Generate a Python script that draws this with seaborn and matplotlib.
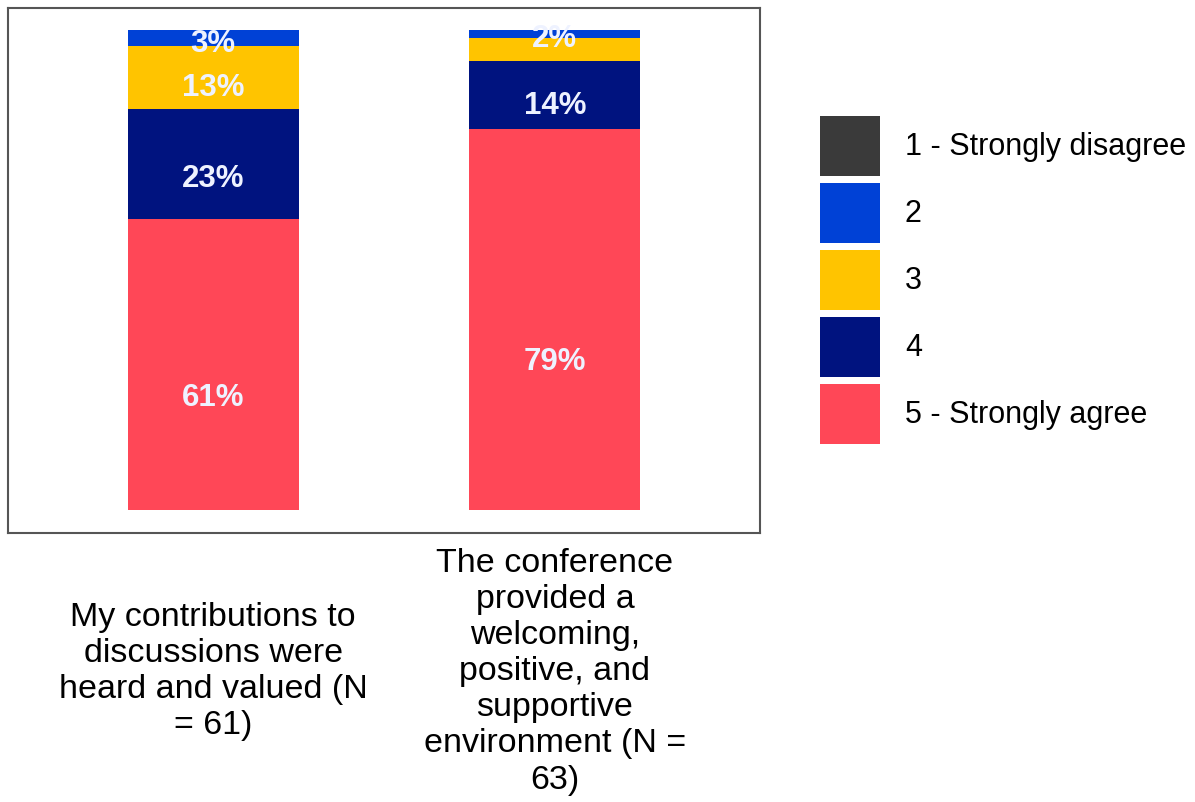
import numpy as np
import pandas as pd
import matplotlib
matplotlib.use("Agg")
import matplotlib.pyplot as plt
from matplotlib.patches import Patch
import seaborn as sns

# ---- data ----
questions = [
    "My contributions to\ndiscussions were\nheard and valued (N\n= 61)",
    "The conference\nprovided a\nwelcoming,\npositive, and\nsupportive\nenvironment (N =\n63)",
]
responses = ["1 - Strongly disagree", "2", "3", "4", "5 - Strongly agree"]
counts_q1 = [0, 2, 8, 14, 37]   # N = 61
counts_q2 = [0, 1, 3, 9, 50]    # N = 63
colors = ["#3A3A3A", "#0041D6", "#FFC400", "#00137F", "#FF4757"]

sns.set_theme(style="white")
plt.rcParams["font.family"] = ["Liberation Sans", "DejaVu Sans"]
plt.rcParams["text.color"] = "black"
plt.rcParams["xtick.color"] = "black"

W, H = 1195, 802
fig = plt.figure(figsize=(W / 100, H / 100), dpi=100)
ax = fig.add_axes([8 / W, (H - 533) / H, 752 / W, 525 / H])

pct = pd.DataFrame(
    {q: 100 * np.array(c) / sum(c) for q, c in zip(questions, [counts_q1, counts_q2])},
    index=responses,
).T  # rows = questions, cols = responses

# stack order bottom -> top: 5, 4, 3, 2, 1
stack_order = responses[::-1]
bottoms = np.zeros(len(questions))
label_info = []
for resp in stack_order:
    color = colors[responses.index(resp)]
    vals = pct[resp].values
    sns.barplot(x=list(questions), y=vals, bottom=bottoms, color=color,
                width=0.5, ax=ax, linewidth=0, saturation=1, order=questions)
    for i, v in enumerate(vals):
        label_info.append((i, bottoms[i], v))
    bottoms = bottoms + vals

# labels, top-down with overlap suppression
last_y = {0: None, 1: None}
for i, b, v in sorted(label_info, key=lambda t: -(t[1] + t[2])):
    if v <= 0.5:
        continue
    y = b + 0.4 * v - 0.9
    if last_y[i] is not None and abs(last_y[i] - y) < 5:
        continue
    last_y[i] = y
    ax.text(i, y, f"{v:.0f}%", ha="center", va="center", color="#EEF2FF",
            fontsize=22.5, fontweight="bold")

ax.set_xlim(-0.6, 1.6)
ax.set_ylim(-4.8, 104.6)
ax.set_xlabel("")
ax.set_ylabel("")
ax.set_yticks([])
ax.tick_params(axis="x", length=0, pad=100)
ax.set_xticks([0, 1])
ax.set_xticklabels(questions, fontsize=24.5, linespacing=1.21, color="black")
for lab in ax.get_xticklabels():
    lab.set_va("center")
    lab.set_ha("center")
for s in ax.spines.values():
    s.set_visible(True)
    s.set_color("#555555")
    s.set_linewidth(1.5)

handles = [Patch(facecolor=c, edgecolor="none") for c in colors]
leg = fig.legend(handles, responses, loc="upper left",
                 bbox_to_anchor=(820 / W, 1 - 116 / H), frameon=False,
                 fontsize=22, handlelength=1.96, handleheight=2.64,
                 handletextpad=0.82, labelspacing=0.23, borderpad=0, borderaxespad=0)
for t in leg.get_texts():
    t.set_color("black")

fig.savefig("out.png", dpi=100)
